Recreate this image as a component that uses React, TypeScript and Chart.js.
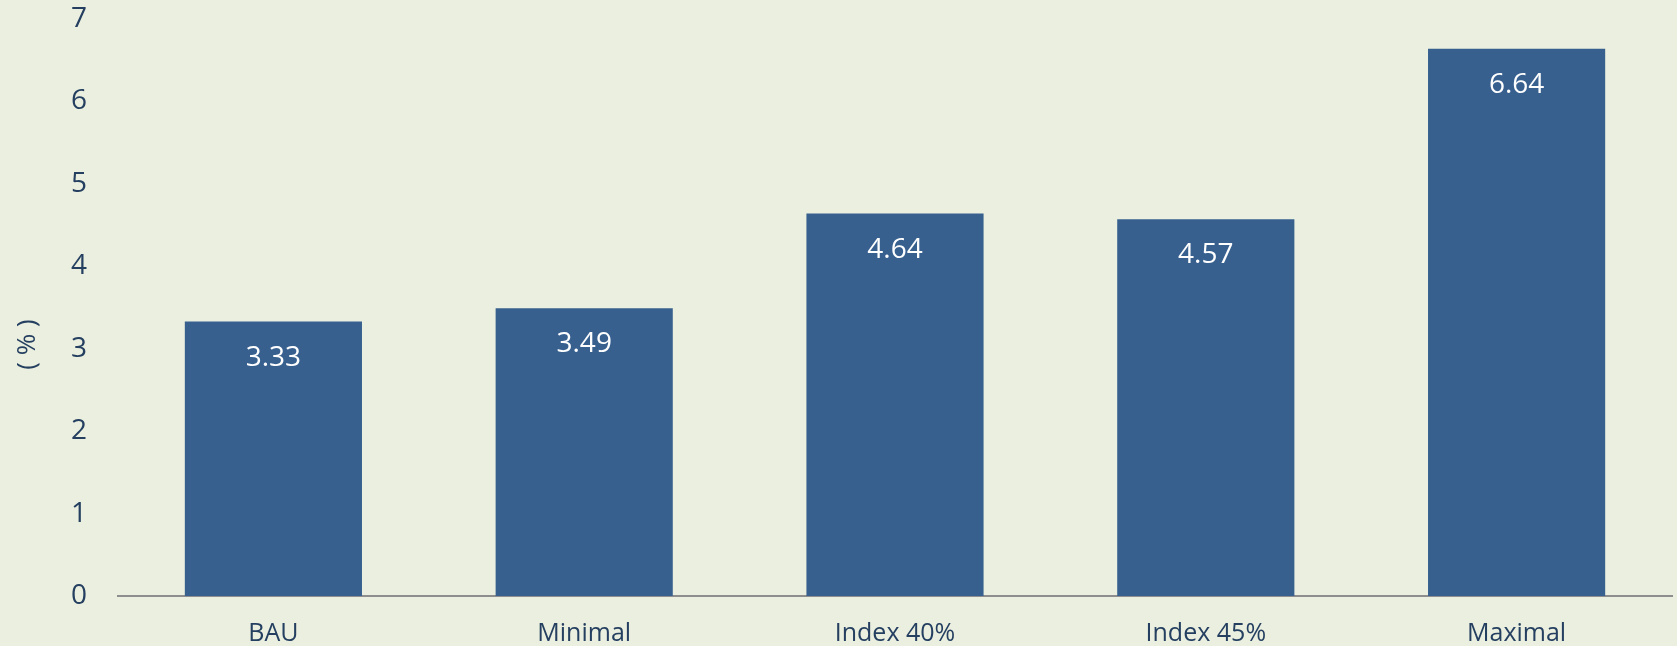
import React, { useEffect, useRef } from "react";
import { Chart, registerables } from "chart.js";

Chart.register(...registerables);

const categories = ["BAU", "Minimal", "Index 40%", "Index 45%", "Maximal"];
const values = [3.33, 3.49, 4.64, 4.57, 6.64];
const yTitle = "( % )";
const yMin = 0;
const yMax = 7;
const yStep = 1;

const BG = "#EBEFDF";
const BAR = "#37608F";
const TEXT = "#243F60";
const FONT = '"Open Sans", "Noto Sans CJK SC", sans-serif';

const valueLabels = {
  id: "valueLabels",
  afterDatasetsDraw(chart: any) {
    const ctx = chart.ctx;
    const meta = chart.getDatasetMeta(0);
    ctx.save();
    ctx.fillStyle = "#FFFFFF";
    ctx.font = `28px ${FONT}`;
    ctx.textAlign = "center";
    ctx.textBaseline = "alphabetic";
    meta.data.forEach((bar: any, i: number) => {
      ctx.fillText(values[i].toFixed(2), bar.x, bar.y + 44);
    });
    ctx.restore();
  },
};

const yTitlePlugin = {
  id: "yTitlePlugin",
  afterDraw(chart: any) {
    const ctx = chart.ctx;
    const area = chart.chartArea;
    ctx.save();
    ctx.fillStyle = TEXT;
    ctx.font = `26px ${FONT}`;
    ctx.textAlign = "center";
    ctx.textBaseline = "middle";
    ctx.translate(28, (area.top + area.bottom) / 2 + 37);
    ctx.rotate(-Math.PI / 2);
    ctx.fillText(yTitle, 0, 0);
    ctx.restore();
  },
};

const bgPlugin = {
  id: "bgPlugin",
  beforeDraw(chart: any) {
    const ctx = chart.ctx;
    ctx.save();
    ctx.fillStyle = BG;
    ctx.fillRect(0, 0, chart.width, chart.height);
    ctx.restore();
  },
};

export default function App() {
  const ref = useRef<HTMLCanvasElement | null>(null);

  useEffect(() => {
    document.body.style.margin = "0";
    document.body.style.background = BG;
    if (!ref.current) return;
    const chart = new Chart(ref.current, {
      type: "bar",
      data: {
        labels: categories,
        datasets: [
          {
            data: values,
            backgroundColor: BAR,
            borderWidth: 0,
            categoryPercentage: 1,
            barPercentage: 0.57,
          },
        ],
      },
      options: {
        animation: false,
        responsive: false,
        maintainAspectRatio: false,
        events: [],
        layout: { padding: { top: 19, right: 5, left: 0, bottom: 0 } },
        plugins: {
          legend: { display: false },
          tooltip: { enabled: false },
          title: { display: false },
        },
        scales: {
          x: {
            grid: { display: false, drawTicks: false },
            border: { display: true, color: "#8E8E8E", width: 2 },
            ticks: {
              color: TEXT,
              font: { family: FONT, size: 25 },
              padding: 23,
              maxRotation: 0,
              autoSkip: false,
            },
            afterFit(scale: any) {
              scale.height = 50;
              scale.paddingLeft = 0;
              scale.paddingRight = 0;
            },
          },
          y: {
            min: yMin,
            max: yMax,
            grid: { display: false, drawTicks: false },
            border: { display: false },
            ticks: {
              stepSize: yStep,
              color: TEXT,
              font: { family: FONT, size: 28 },
              padding: 31,
            },
            afterFit(scale: any) {
              scale.width = 118;
              scale.paddingTop = 0;
              scale.paddingBottom = 0;
            },
          },
        },
      },
      plugins: [bgPlugin, valueLabels, yTitlePlugin],
    });
    return () => chart.destroy();
  }, []);

  return (
    <div style={{ position: "absolute", left: 0, top: 0, width: 1677, height: 646, background: BG }}>
      <canvas ref={ref} width={1677} height={646} style={{ width: 1677, height: 646, display: "block" }} />
    </div>
  );
}
